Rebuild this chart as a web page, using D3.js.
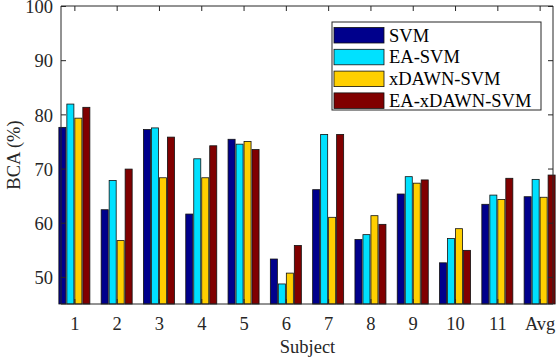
<!DOCTYPE html>
<html><head><meta charset="utf-8">
<script src="https://cdn.jsdelivr.net/npm/d3@7"></script>
<style>body{margin:0;background:#fff}svg{display:block}</style>
</head><body>
<script>
const categories = ["1","2","3","4","5","6","7","8","9","10","11","Avg"];
const seriesNames = ["SVM","EA-SVM","xDAWN-SVM","EA-xDAWN-SVM"];
const svmValues      = [77.6,62.4,77.2,61.6,75.4,53.3,66.1,56.9,65.3,52.6,63.4,64.8];
const eaSvmValues    = [81.9,67.8,77.5,71.8,74.5,48.7,76.3,57.8,68.5,57.1,65.1,68.0];
const xdawnValues    = [79.3,56.7,68.3,68.3,75.0,50.7,61.0,61.3,67.3,58.9,64.3,64.7];
const eaXdawnValues  = [81.3,69.9,75.8,74.2,73.5,55.8,76.3,59.7,67.9,54.9,68.2,68.8];
const yTicks = [50,60,70,80,90,100];
const colors = ["#00008C","#00E1FF","#FFCF00","#800000"];

const allSeries = [svmValues, eaSvmValues, xdawnValues, eaXdawnValues];
const W = 556, H = 360;
const L = 61, R = 553, T = 6, B = 304;
const font = "'Liberation Serif', 'Times New Roman', serif";
const fs = "18.5px";
const axisColor = "#262626";

const svg = d3.select("body").append("svg").attr("width", W).attr("height", H);

const x = d3.scalePoint().domain(categories).range([L, R]).padding(0.316);
const xs = d3.scaleBand().domain(seriesNames).range([-15.5, 15.5]).paddingInner(0.12);
const y = d3.scaleLinear().domain([45, 100]).range([B, T]);

// bars
seriesNames.forEach((s, si) => {
  svg.append("g").selectAll("rect").data(categories).join("rect")
    .attr("x", c => x(c) + xs(s))
    .attr("y", (c, i) => y(allSeries[si][i]))
    .attr("width", xs.bandwidth())
    .attr("height", (c, i) => B - y(allSeries[si][i]))
    .attr("fill", colors[si])
    .attr("stroke", "#111")
    .attr("stroke-width", 0.8);
});

// axes
const tickLen = 5;
const gL = svg.append("g").attr("transform", `translate(${L},0)`)
  .call(d3.axisLeft(y).tickValues(yTicks).tickSizeInner(-tickLen).tickSizeOuter(0).tickPadding(8));
const gR = svg.append("g").attr("transform", `translate(${R},0)`)
  .call(d3.axisRight(y).tickValues(yTicks).tickSizeInner(-tickLen).tickSizeOuter(0).tickFormat(""));
const gB = svg.append("g").attr("transform", `translate(0,${B})`)
  .call(d3.axisBottom(x).tickSizeInner(-tickLen).tickSizeOuter(0).tickPadding(13));
const gT = svg.append("g").attr("transform", `translate(0,${T})`)
  .call(d3.axisTop(x).tickSizeInner(-tickLen).tickSizeOuter(0).tickFormat(""));
[gL, gR, gB, gT].forEach(g => {
  g.attr("font-family", null).attr("font-size", null);
  g.selectAll("path.domain").attr("stroke", axisColor).attr("stroke-width", 1);
  g.selectAll(".tick line").attr("stroke", axisColor);
  g.selectAll("text").attr("fill", axisColor).style("font-family", font).style("font-size", fs);
});
gL.selectAll("text").attr("dy", "0.36em");
gL.select("path.domain").attr("d", `M0,${T}V${B}`);
gR.select("path.domain").attr("d", `M0,${T}V${B}`);
gB.select("path.domain").attr("d", `M${L},0H${R}`);
gT.select("path.domain").attr("d", `M${L},0H${R}`);

// axis labels
svg.append("text").attr("x", 307.5).attr("y", 353).attr("text-anchor", "middle")
  .style("font-family", font).style("font-size", fs).attr("fill", axisColor).text("Subject");
svg.append("text").attr("transform", `translate(20,155) rotate(-90)`)
  .attr("text-anchor", "middle").style("font-family", font).style("font-size", fs)
  .attr("fill", axisColor).text("BCA (%)");

// legend
const lg = svg.append("g");
lg.append("rect").attr("x", 332).attr("y", 22).attr("width", 209).attr("height", 88)
  .attr("fill", "#fff").attr("stroke", axisColor).attr("stroke-width", 1);
seriesNames.forEach((s, i) => {
  const ry = 27.5 + i * 21.8;
  lg.append("rect").attr("x", 334).attr("y", ry).attr("width", 50).attr("height", 15.5)
    .attr("fill", colors[i]).attr("stroke", "#111").attr("stroke-width", 0.8);
  lg.append("text").attr("x", 389).attr("y", ry + 14).style("font-family", font)
    .style("font-size", fs).attr("fill", "#000").text(s);
});
</script>
</body></html>
